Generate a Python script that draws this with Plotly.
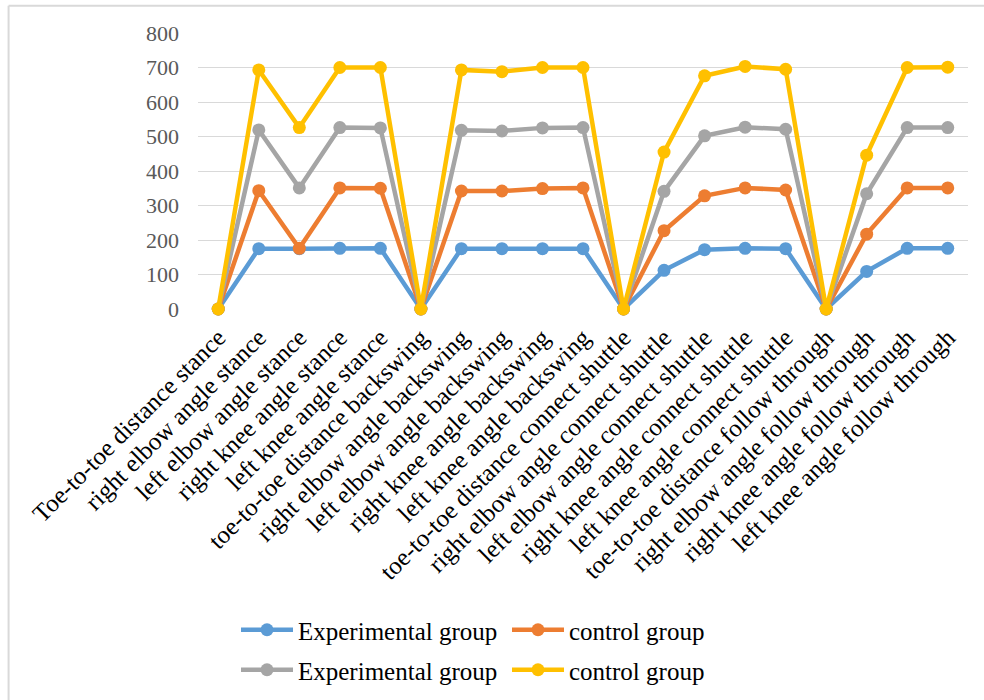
import plotly.graph_objects as go

# Measurement labels (x-axis categories)
categories = [
    "Toe-to-toe distance stance",
    "right elbow angle stance",
    "left elbow angle stance",
    "right knee angle stance",
    "left knee angle stance",
    "toe-to-toe distance backswing",
    "right elbow angle backswing",
    "left elbow angle backswing",
    "right knee angle backswing",
    "left knee angle backswing",
    "toe-to-toe distance connect shuttle",
    "right elbow angle connect shuttle",
    "left elbow angle connect shuttle",
    "right knee angle connect shuttle",
    "left knee angle connect shuttle",
    "toe-to-toe distance follow through",
    "right elbow angle follow through",
    "right knee angle follow through",
    "left knee angle follow through",
]

# Plotted values for each series
exp_group_1 = [0, 175, 175, 176, 176, 0, 175, 175, 175, 175, 0, 112, 172, 176, 175, 0, 109, 176, 176]
ctrl_group_1 = [0, 343, 176, 351, 350, 0, 342, 342, 349, 351, 0, 227, 328, 351, 345, 0, 217, 351, 351]
exp_group_2 = [0, 519, 351, 526, 525, 0, 518, 516, 525, 526, 0, 341, 502, 527, 521, 0, 334, 526, 526]
ctrl_group_2 = [0, 693, 526, 700, 700, 0, 693, 688, 700, 700, 0, 455, 676, 703, 695, 0, 446, 700, 701]

series_names = ["Experimental group", "control group", "Experimental group", "control group"]
series_values = [exp_group_1, ctrl_group_1, exp_group_2, ctrl_group_2]
colors = ["#5B9BD5", "#ED7D31", "#A5A5A5", "#FFC000"]
legend_ids = ["legend", "legend", "legend2", "legend2"]

y_ticks = [0, 100, 200, 300, 400, 500, 600, 700, 800]

FONT = "Liberation Serif, Times New Roman, serif"

fig = go.Figure()
for name, vals, col, lg in zip(series_names, series_values, colors, legend_ids):
    fig.add_trace(go.Scatter(
        x=categories,
        y=vals,
        name=name,
        mode="lines+markers",
        line=dict(color=col, width=4.5),
        marker=dict(color=col, size=13),
        cliponaxis=False,
        legend=lg,
    ))

legend_common = dict(
    orientation="h",
    x=(236 - 198) / 770,
    xanchor="left",
    yanchor="middle",
    entrywidth=204,
    entrywidthmode="pixels",
    itemwidth=52,
    font=dict(family=FONT, size=25, color="#000000"),
    bgcolor="rgba(0,0,0,0)",
)

fig.update_layout(
    width=984,
    height=700,
    paper_bgcolor="white",
    plot_bgcolor="white",
    margin=dict(l=198, r=16, t=33, b=391, autoexpand=False),
    font=dict(family=FONT, size=21, color="#000000"),
    showlegend=True,
    legend=dict(legend_common, y=(309 - 630) / 276),
    legend2=dict(legend_common, y=(309 - 670) / 276),
    xaxis=dict(
        type="category",
        range=[-0.5, len(categories) - 0.5],
        tickangle=-45,
        showgrid=False,
        showline=False,
        ticks="",
        ticklabelstandoff=8,
        automargin=False,
        tickfont=dict(family=FONT, size=25, color="#000000"),
    ),
    yaxis=dict(
        range=[0, 800],
        tickvals=y_ticks,
        showgrid=True,
        gridcolor="#D9D9D9",
        gridwidth=1.3,
        zeroline=False,
        showline=False,
        ticks="",
        ticklabelstandoff=18,
        automargin=False,
        tickfont=dict(family=FONT, size=22, color="#595959"),
    ),
    shapes=[
        dict(type="line", xref="paper", yref="paper", x0=-0.246, x1=1.03,
             y0=1.099, y1=1.099, line=dict(color="#D9D9D9", width=2)),
        dict(type="line", xref="paper", yref="paper", x0=-0.246, x1=-0.246,
             y0=1.099, y1=-1.42, line=dict(color="#D9D9D9", width=2)),
    ],
)

fig.write_html("out.html")
